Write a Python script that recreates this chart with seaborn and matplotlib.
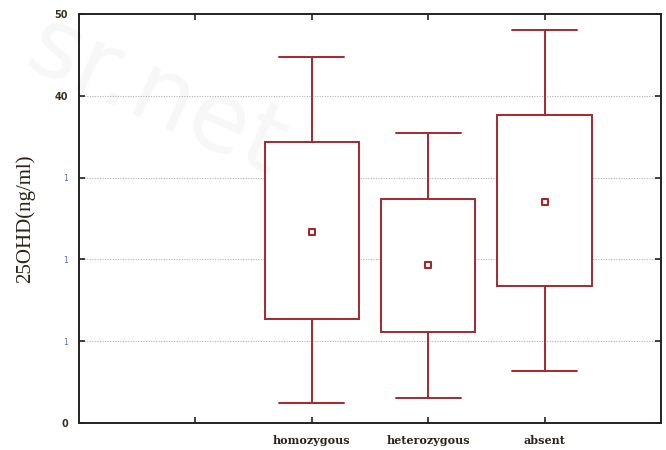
import numpy as np
import pandas as pd
import matplotlib
matplotlib.use("Agg")
import matplotlib.pyplot as plt
import seaborn as sns

# Summary statistics of 25OHD (ng/ml) per genotype group
groups = ["homozygous", "heterozygous", "absent"]
means = [23.4, 19.35, 27.05]
box_low = [12.75, 11.1, 16.7]
box_high = [34.3, 27.4, 37.7]
whisker_low = [2.4, 3.05, 6.3]
whisker_high = [44.7, 35.4, 48.1]

# Category slots along x (first two slots stay empty)
slot_order = ["slot0", "slot1"] + groups
x_tick_labels = ["", "homozygous", "heterozygous", "absent"]
y_ticks = [0, 10, 20, 30, 40, 50]
y_tick_labels = ["0", "1", "1", "1", "40", "50"]

RED = "#a8262b"

# Long table: each group's five summary points give exact box edges and whisker ends
rows = []
for g, wl, bl, m, bh, wh in zip(groups, whisker_low, box_low, means, box_high, whisker_high):
    for v in (wl, bl, m, bh, wh):
        rows.append({"group": g, "value": v})
df = pd.DataFrame(rows)
mean_df = pd.DataFrame({"group": groups, "value": means})

sns.set_theme(style="white")
plt.rcParams["font.family"] = ["DejaVu Sans"]

fig = plt.figure(figsize=(6.66, 4.5), dpi=100)
ax = fig.add_axes([79 / 666, 27 / 450, 582 / 666, 409 / 450])

# Dotted horizontal grid behind the boxes
for yv in [10, 20, 30, 40]:
    ax.axhline(yv, color="#b4b4b4", linestyle=(0, (1.0, 1.3)), linewidth=0.8, zorder=0)

sns.boxplot(
    data=df, x="group", y="value", order=slot_order, ax=ax,
    width=0.81, whis=(0, 100), showfliers=False,
    boxprops=dict(facecolor="white", edgecolor=RED, linewidth=1.4),
    whiskerprops=dict(color=RED, linewidth=1.4),
    capprops=dict(color=RED, linewidth=1.4),
    medianprops=dict(linewidth=0),
    capwidths=0.56,
    zorder=2,
)

sns.scatterplot(
    data=mean_df, x="group", y="value", ax=ax, marker="s", s=18,
    facecolor="white", edgecolor=RED, linewidth=1.5, zorder=5,
)

ax.set_xlim(0, 5)
ax.set_ylim(0, 50)
ax.set_xticks([1, 2, 3, 4])
ax.set_xticklabels(x_tick_labels, family="DejaVu Serif", fontsize=8,
                   fontweight="bold", color="#2a2418")
ax.set_yticks(y_ticks)
ax.set_yticklabels(y_tick_labels, fontsize=7, fontweight="bold")
for lbl, txt in zip(ax.get_yticklabels(), y_tick_labels):
    if txt == "1":
        lbl.set_color("#4a6ad0")
        lbl.set_fontsize(5.5)
        lbl.set_fontweight("normal")
    else:
        lbl.set_color("#3c3020")

ax.tick_params(axis="both", which="both", direction="in", length=4, width=1.2,
               color="#222222", top=True, right=True, bottom=True, left=True,
               labeltop=False, labelright=False)
ax.tick_params(axis="y", pad=8)
ax.tick_params(axis="x", pad=9)

ax.set_xlabel("")
ax.set_ylabel("25OHD(ng/ml)", family="Liberation Serif", fontsize=15,
              color="#2e2418", labelpad=14)

for side, sp in ax.spines.items():
    sp.set_visible(True)
    sp.set_color("#222222")
    sp.set_linewidth(1.4)

# Faint diagonal watermark lettering
fig.text(0.02, 1.0, "sr.net", fontsize=70, color="#000000", alpha=0.035,
         rotation=-24, ha="left", va="top", zorder=10)

fig.savefig("out.png", dpi=100)
